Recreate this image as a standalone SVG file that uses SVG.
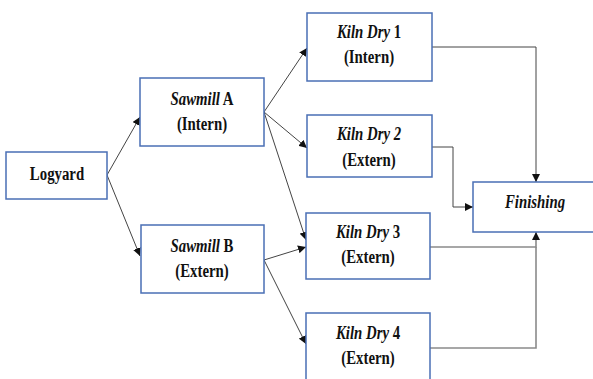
<svg xmlns="http://www.w3.org/2000/svg" width="593" height="379" viewBox="0 0 593 379">
<defs>
<marker id="ah" viewBox="0 0 10 10" refX="10" refY="5" markerWidth="8" markerHeight="8" markerUnits="userSpaceOnUse" orient="auto">
<path d="M0,0 L10,5 L0,10 z" fill="#111"/>
</marker>
<style>
.box{fill:#fff;stroke:#4a6fb5;stroke-width:1.5}
.t{font-family:'Liberation Serif',serif;font-weight:bold;font-size:18.5px;text-anchor:middle;fill:#111}
.i{font-style:italic}
.c{fill:none;stroke:#444;stroke-width:1}
.g{fill:none;stroke:#8a8a8a;stroke-width:1.6}
</style>
</defs>
<rect width="593" height="379" fill="#fff"/>
<g id="connectors">
<path class="c" d="M107,175 L140,117" marker-end="url(#ah)"/>
<path class="c" d="M107,175 L140,256" marker-end="url(#ah)"/>
<path class="c" d="M264,112 L307,48" marker-end="url(#ah)"/>
<path class="c" d="M264,112 L307,148" marker-end="url(#ah)"/>
<path class="c" d="M264,112 L306,240" marker-end="url(#ah)"/>
<path class="c" d="M264,260 L306,247" marker-end="url(#ah)"/>
<path class="c" d="M264,260 L306,344" marker-end="url(#ah)"/>
<path class="c" d="M432,47 H536 V182" marker-end="url(#ah)"/>
<path class="c" d="M432,147 H453 V207 H473" marker-end="url(#ah)"/>
<path class="g" d="M430,247 H536 V232" marker-end="url(#ah)"/>
<path class="g" d="M430,348 H536 V247"/>
</g>
<g id="logyard">
<rect class="box" x="6" y="152" width="101" height="47"/>
<text class="t" font-family="Liberation Serif" transform="translate(57,180) scale(0.8,1)">Logyard</text>
</g>
<g id="sawmillA">
<rect class="box" x="140" y="78" width="124" height="68"/>
<text class="t" transform="translate(202,105) scale(0.8,1)"><tspan class="i">Sawmill</tspan> A</text>
<text class="t" transform="translate(202,130) scale(0.8,1)">(Intern)</text>
</g>
<g id="sawmillB">
<rect class="box" x="141" y="225" width="123" height="68"/>
<text class="t" transform="translate(202,252) scale(0.8,1)"><tspan class="i">Sawmill</tspan> B</text>
<text class="t" transform="translate(202,277) scale(0.8,1)">(Extern)</text>
</g>
<g id="kiln1">
<rect class="box" x="307" y="13" width="125" height="68"/>
<text class="t" transform="translate(369,38) scale(0.8,1)"><tspan class="i">Kiln Dry</tspan> 1</text>
<text class="t" transform="translate(369,63) scale(0.8,1)">(Intern)</text>
</g>
<g id="kiln2">
<rect class="box" x="307" y="115" width="125" height="62"/>
<text class="t i" transform="translate(369,140) scale(0.8,1)">Kiln Dry 2</text>
<text class="t" transform="translate(369,166) scale(0.8,1)">(Extern)</text>
</g>
<g id="kiln3">
<rect class="box" x="306" y="213" width="124" height="66"/>
<text class="t" transform="translate(368,238) scale(0.8,1)"><tspan class="i">Kiln Dry</tspan> 3</text>
<text class="t" transform="translate(368,263) scale(0.8,1)">(Extern)</text>
</g>
<g id="kiln4">
<rect class="box" x="306" y="313" width="124" height="70"/>
<text class="t" transform="translate(368,339) scale(0.8,1)"><tspan class="i">Kiln Dry</tspan> 4</text>
<text class="t" transform="translate(368,364) scale(0.8,1)">(Extern)</text>
</g>
<g id="finishing">
<rect class="box" x="473" y="182" width="126" height="50"/>
<text class="t i" transform="translate(535,208) scale(0.8,1)">Finishing</text>
</g>
</svg>
